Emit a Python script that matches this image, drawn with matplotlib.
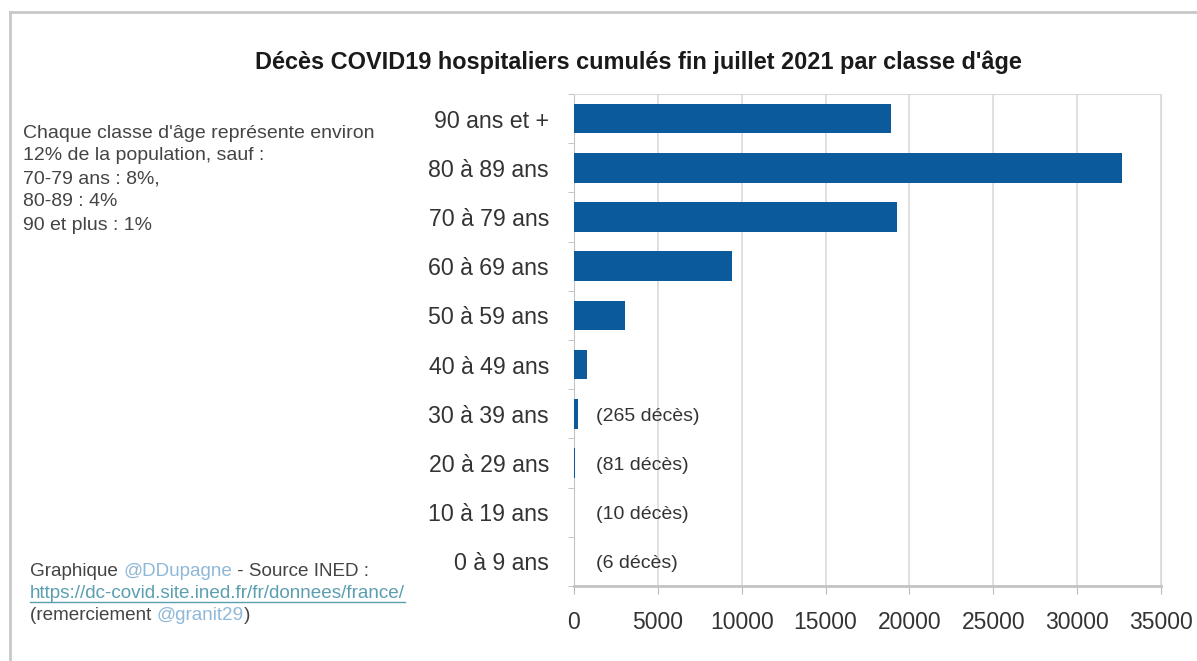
import numpy as np
import matplotlib.pyplot as plt

plt.rcParams['font.family'] = ['Liberation Sans', 'DejaVu Sans']

# classes d'âge, de la plus âgée à la plus jeune (de haut en bas)
classes = ["90 ans et +", "80 à 89 ans", "70 à 79 ans", "60 à 69 ans", "50 à 59 ans",
           "40 à 49 ans", "30 à 39 ans", "20 à 29 ans", "10 à 19 ans", "0 à 9 ans"]
deces = [18900, 32650, 19250, 9400, 3050, 800, 265, 81, 10, 6]
petits = [("30 à 39 ans", "(265 décès)"), ("20 à 29 ans", "(81 décès)"),
          ("10 à 19 ans", "(10 décès)"), ("0 à 9 ans", "(6 décès)")]
xticks = [0, 5000, 10000, 15000, 20000, 25000, 30000, 35000]

W, H = 1197, 661
fig = plt.figure(figsize=(W / 100, H / 100), dpi=100)
fig.patch.set_facecolor('white')

# cadre gris (haut et gauche)
fig.add_artist(plt.Line2D([10 / W, 1], [1 - 12 / H, 1 - 12 / H], color='#c8c8c8', lw=2))
fig.add_artist(plt.Line2D([10 / W, 10 / W], [0, 1 - 12 / H], color='#c8c8c8', lw=2))

ax = fig.add_axes([574 / W, 1 - 586 / H, (1161 - 574) / W, (586 - 94) / H])
y = np.arange(len(classes))
ax.barh(y, deces, height=0.6, color='#0b5a9c', zorder=3)
ax.set_ylim(len(classes) - 0.5, -0.5)
ax.set_xlim(0, 35000)

ax.set_xticks(xticks)
ax.set_xticklabels([str(v) for v in xticks], fontsize=16.5, color='#333333')
ax.set_yticks(y)
ax.set_yticklabels(classes, fontsize=16.7, color='#333333')
ax.set_yticks(np.arange(len(classes) + 1) - 0.5, minor=True)
ax.tick_params(axis='y', which='major', length=0, pad=18)
ax.tick_params(axis='y', which='minor', length=4, color='#bbbbbb')
ax.tick_params(axis='x', length=6, color='#bbbbbb', pad=12)
ax.grid(axis='x', color='#dadada', lw=1.2, zorder=0)
for s in ax.spines.values():
    s.set_color('#dadada')
ax.spines['bottom'].set_color('#c4c4c4')
ax.spines['bottom'].set_linewidth(2)
ax.spines['left'].set_color('#c4c4c4')

for cl, txt in petits:
    ax.text(1300, classes.index(cl) + 0.05, txt, fontsize=14, color='#333333', va='center', ha='left')

fig.text(638 / W, 1 - 62 / H, "Décès COVID19 hospitaliers cumulés fin juillet 2021 par classe d'âge",
         fontsize=16.9, fontweight='bold', color='#1a1a1a', ha='center', va='center')

note = ["Chaque classe d'âge représente environ", "12% de la population, sauf :",
        "70-79 ans : 8%,", "80-89 : 4%", "90 et plus : 1%"]
for i, l in enumerate(note):
    fig.text(23 / W, 1 - (133 + i * 23) / H, l, fontsize=14, color='#444444', va='center')

# crédits en bas à gauche, avec les pseudos en bleu clair
renderer = fig.canvas.get_renderer()


def ligne(morceaux, x, ypix):
    for txt, col in morceaux:
        t = fig.text(x / W, 1 - ypix / H, txt, fontsize=13.6, color=col, va='center')
        x += t.get_window_extent(renderer).width


ligne([("Graphique ", '#444444'), ("@DDupagne", '#8fb8d8'), (" - Source INED :", '#444444')], 30, 572)
url = fig.text(30 / W, 1 - 594 / H, "https://dc-covid.site.ined.fr/fr/donnees/france/", fontsize=13.6,
               color='#5a9fb0', va='center')
bb = url.get_window_extent(renderer)
fig.add_artist(plt.Line2D([bb.x0 / W, bb.x1 / W], [(bb.y0 + 1) / H, (bb.y0 + 1) / H],
                          color='#5a9fb0', lw=1))
ligne([("(remerciement ", '#444444'), ("@granit29", '#8fb8d8'), (")", '#444444')], 30, 616)

fig.savefig('out.png', dpi=100)
